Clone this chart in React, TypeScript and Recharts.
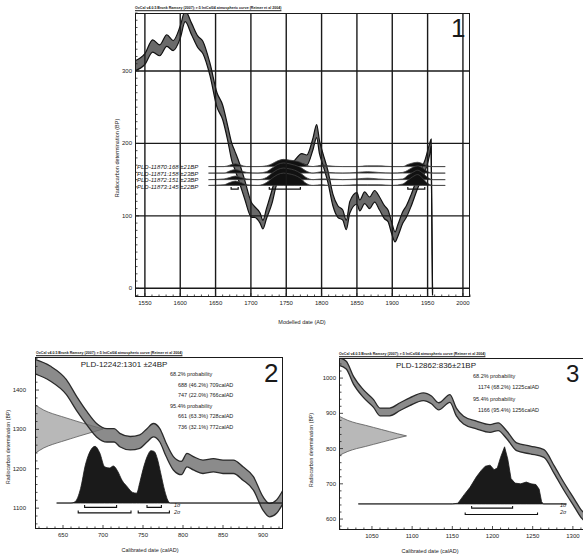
import React from 'react';
import { ComposedChart, Area, Line, XAxis, YAxis, ReferenceLine } from 'recharts';

const FONT = '"Liberation Sans", Arial, Helvetica, sans-serif';
const HEADER = 'OxCal v4.0.5 Bronk Ramsey (2007); r:5 IntCal04 atmospheric curve (Reimer et al 2004)';

// ---- panel 1: modelled dates on the IntCal curve
const curve1Years = [1536, 1550, 1561, 1571, 1581, 1590, 1600, 1607, 1616, 1625, 1632, 1642, 1652, 1660, 1667, 1673, 1677, 1684, 1691, 1701, 1705, 1713, 1717, 1722, 1730, 1736, 1745, 1759, 1772, 1779, 1788, 1793, 1797, 1802, 1809, 1816, 1823, 1830, 1835, 1840, 1850, 1854, 1861, 1868, 1875, 1882, 1889, 1894, 1899, 1904, 1908, 1915, 1920, 1927, 1936, 1946, 1953, 1955, 1957];
const curve1Lo = [300, 309, 326, 321, 334, 328, 345, 368, 350, 332, 324, 294, 250, 233, 205, 176, 165, 145, 124, 98, 98, 90, 82, 96, 118, 142, 156, 160, 172, 170, 192, 208, 186, 170, 146, 114, 98, 94, 81, 104, 116, 107, 117, 110, 119, 108, 96, 92, 76, 64, 72, 90, 98, 114, 138, 160, 185, 196, -10];
const curve1Hi = [314, 324, 343, 336, 350, 342, 362, 383, 366, 348, 341, 311, 270, 253, 225, 200, 190, 172, 150, 118, 113, 104, 94, 110, 136, 158, 170, 174, 186, 184, 208, 226, 204, 186, 162, 130, 114, 108, 94, 120, 132, 122, 133, 126, 135, 126, 114, 108, 92, 78, 88, 106, 114, 130, 154, 176, 200, 206, -6];

const samples1 = ['PLD-11870:168 \u00b121BP', 'PLD-11871:158 \u00b123BP', 'PLD-11872:151 \u00b123BP', 'PLD-11873:145 \u00b122BP'];
const samples1Base = [168, 159, 150, 142];
const dist1Years = [1640, 1662, 1670, 1678, 1686, 1694, 1710, 1722, 1730, 1738, 1746, 1754, 1762, 1770, 1778, 1788, 1800, 1810, 1830, 1850, 1865, 1880, 1900, 1915, 1922, 1929, 1936, 1943, 1950, 1958, 1975];
const dist1S1 = [0, 0, 2, 4, 2, 0, 0, 1, 4, 8, 10, 9, 8, 6, 2, 0, 2, 1, 0, 0, 1, 1, 0, 0, 3, 5, 6, 4, 1, 0, 0];
const dist1S2 = [0, 0, 3, 5, 3, 1, 0, 2, 7, 12, 14, 13, 11, 8, 3, 0, 2, 1, 0, 1, 2, 1, 0, 1, 4, 8, 10, 7, 2, 0, 0];
const dist1S3 = [0, 1, 3, 5, 3, 1, 0, 3, 9, 14, 16, 15, 13, 9, 3, 0, 1, 1, 0, 1, 2, 1, 0, 1, 6, 10, 13, 9, 3, 0, 0];
const dist1S4 = [0, 1, 4, 6, 4, 1, 0, 4, 10, 15, 17, 16, 14, 10, 3, 0, 1, 0, 0, 1, 1, 1, 0, 2, 7, 12, 15, 10, 3, 0, 0];
const bracket1From = [1672, 1726, 1922];
const bracket1To = [1682, 1770, 1946];
const bracket1Level = 137;

const xMajor1 = [1550, 1600, 1650, 1700, 1750, 1800, 1850, 1900, 1950, 2000];
const yMajor1 = [0, 100, 200, 300];

// ---- panel 2: PLD-12242
const curve2Years = [615, 634, 654, 667, 680, 692, 705, 714, 721, 734, 746, 755, 763, 771, 779, 788, 798, 805, 813, 825, 838, 850, 863, 875, 888, 900, 908, 917, 925];
const curve2Lo = [1441, 1423, 1389, 1348, 1311, 1281, 1268, 1268, 1256, 1248, 1252, 1268, 1281, 1268, 1231, 1197, 1185, 1205, 1197, 1188, 1192, 1188, 1188, 1171, 1146, 1095, 1078, 1087, 1112];
const curve2Hi = [1478, 1461, 1427, 1384, 1345, 1315, 1302, 1302, 1290, 1282, 1286, 1302, 1315, 1302, 1265, 1231, 1219, 1239, 1231, 1222, 1226, 1222, 1222, 1205, 1180, 1129, 1112, 1121, 1146];
const gauss2Center = 1301;
const gauss2Years = [615, 626, 637, 648, 659, 670, 680, 690, 700];
const gauss2Half = [62, 48, 39, 32, 25, 18, 12, 6, 0];
const dist2Base = 1113;
const dist2Years = [642, 660, 665, 672, 678, 684, 690, 696, 702, 708, 713, 718, 724, 730, 737, 742, 746, 750, 755, 760, 764, 768, 772, 777, 781, 784, 800, 925];
const dist2Top = [1113, 1113, 1116, 1150, 1210, 1245, 1257, 1240, 1205, 1202, 1207, 1195, 1170, 1155, 1140, 1138, 1165, 1198, 1230, 1246, 1244, 1225, 1190, 1145, 1120, 1113, 1113, 1113];
const sigma1From2 = [677, 755];
const sigma1To2 = [717, 773];
const sigma2From2 = [669, 744];
const sigma2To2 = [735, 783];
const prob2 = ['68.2% probability', '688 (46.2%) 709calAD', '747 (22.0%) 766calAD', '95.4% probability', '661 (63.3%) 728calAD', '736 (32.1%) 772calAD'];

// ---- panel 3: PLD-12862
const curve3Years = [1009, 1018, 1027, 1039, 1052, 1060, 1072, 1085, 1097, 1114, 1124, 1133, 1147, 1155, 1164, 1180, 1197, 1207, 1218, 1230, 1247, 1264, 1277, 1289, 1302, 1310, 1320, 1330];
const curve3Lo = [1036, 1026, 983, 946, 917, 893, 893, 908, 922, 936, 927, 910, 931, 893, 870, 856, 846, 851, 827, 794, 785, 775, 728, 681, 634, 605, 585, 570];
const curve3Hi = [1058, 1048, 1005, 968, 939, 915, 915, 930, 944, 958, 949, 930, 953, 915, 892, 878, 868, 873, 849, 816, 807, 797, 750, 703, 656, 627, 607, 592];
const gauss3Center = 836;
const gauss3Years = [1009, 1020, 1031, 1042, 1052, 1062, 1072, 1082, 1093];
const gauss3Half = [56, 44, 36, 30, 24, 18, 12, 6, 0];
const dist3Base = 643;
const dist3Years = [1033, 1150, 1157, 1165, 1172, 1180, 1186, 1191, 1197, 1202, 1206, 1210, 1215, 1219, 1223, 1228, 1235, 1242, 1248, 1254, 1258, 1261, 1263, 1292];
const dist3Top = [643, 643, 645, 670, 690, 720, 738, 750, 753, 740, 745, 775, 805, 770, 715, 702, 700, 705, 700, 698, 685, 650, 643, 643];
const sigma1From3 = [1174];
const sigma1To3 = [1225];
const sigma2From3 = [1166];
const sigma2To3 = [1256];
const prob3 = ['68.2% probability', '1174 (68.2%) 1225calAD', '95.4% probability', '1166 (95.4%) 1256calAD'];

const steps = (from: number, to: number, step: number) => {
  const out: number[] = [];
  for (let v = from; v <= to; v += step) out.push(v);
  return out;
};

const toBand = (years: number[], lo: number[], hi: number[]) =>
  years.map((x, i) => ({ x, band: [lo[i], hi[i]] }));

const bracket = (from: number, to: number, y: number, lift: number) => [
  { x: from, y: y + lift },
  { x: from, y },
  { x: to, y },
  { x: to, y: y + lift },
];

const curve1 = toBand(curve1Years, curve1Lo, curve1Hi);
const dist1 = dist1Years.map((x, i) => ({
  x,
  s1: [samples1Base[0], samples1Base[0] + dist1S1[i]],
  s2: [samples1Base[1], samples1Base[1] + dist1S2[i]],
  s3: [samples1Base[2], samples1Base[2] + dist1S3[i]],
  s4: [samples1Base[3], samples1Base[3] + dist1S4[i]],
}));
const brackets1 = bracket1From.map((f, i) => bracket(f, bracket1To[i], bracket1Level, 3));

const curve2 = toBand(curve2Years, curve2Lo, curve2Hi);
const gauss2 = gauss2Years.map((x, i) => ({ x, band: [gauss2Center - gauss2Half[i], gauss2Center + gauss2Half[i]] }));
const dist2 = dist2Years.map((x, i) => ({ x, band: [dist2Base, dist2Top[i]] }));
const brackets2 = [
  ...sigma1From2.map((f, i) => bracket(f, sigma1To2[i], 1102, 6)),
  ...sigma2From2.map((f, i) => bracket(f, sigma2To2[i], 1088, 6)),
];

const curve3 = toBand(curve3Years, curve3Lo, curve3Hi);
const gauss3 = gauss3Years.map((x, i) => ({ x, band: [gauss3Center - gauss3Half[i], gauss3Center + gauss3Half[i]] }));
const dist3 = dist3Years.map((x, i) => ({ x, band: [dist3Base, dist3Top[i]] }));
const brackets3 = [
  ...sigma1From3.map((f, i) => bracket(f, sigma1To3[i], 631, 6)),
  ...sigma2From3.map((f, i) => bracket(f, sigma2To3[i], 613, 6)),
];

// ticks drawn by hand: short inward marks, labels only on the major ones
const xTick = (major: number) => (p: any) => {
  const v = p.payload.value;
  const isMajor = v % major === 0;
  return (
    <g>
      <line x1={p.x} x2={p.x} y1={p.y} y2={p.y - (isMajor ? 4 : 2.5)} stroke="#222" strokeWidth={0.8} />
      {isMajor && (
        <text x={p.x} y={p.y + 8} textAnchor="middle" fontSize={6} fill="#222" fontFamily={FONT}>
          {v}
        </text>
      )}
    </g>
  );
};

const yTick = (major: number, gap: number) => (p: any) => {
  const v = p.payload.value;
  const isMajor = v % major === 0;
  return (
    <g>
      <line x1={p.x} x2={p.x + (isMajor ? 4 : 2.5)} y1={p.y} y2={p.y} stroke="#222" strokeWidth={0.8} />
      {isMajor && (
        <text x={p.x - gap} y={p.y + 2} textAnchor="end" fontSize={6} fill="#222" fontFamily={FONT}>
          {v}
        </text>
      )}
    </g>
  );
};

const Txt = ({ x, y, size, children, anchor = 'start', italic, bold, rotate, underline, color = '#1a1a1a' }: any) => {
  const tx = anchor === 'middle' ? '-50%' : anchor === 'end' ? '-100%' : '0';
  return (
    <div
      style={{
        position: 'absolute',
        left: x,
        top: y,
        fontSize: size,
        lineHeight: 1,
        whiteSpace: 'nowrap',
        fontStyle: italic ? 'italic' : 'normal',
        fontWeight: bold ? 700 : 400,
        textDecoration: underline ? 'underline' : 'none',
        color,
        transform: rotate ? 'translate(-50%,-50%) rotate(-90deg)' : `translate(${tx},-50%)`,
      }}
    >
      {children}
    </div>
  );
};

const Box = ({ l, t, r, b }: any) => (
  <div
    style={{
      position: 'absolute',
      left: l,
      top: t,
      width: r - l,
      height: b - t,
      border: '1.5px solid #1a1a1a',
      boxSizing: 'border-box',
    }}
  />
);

const axisProps = {
  type: 'number' as const,
  allowDataOverflow: true,
  interval: 0 as const,
  tickSize: 0,
  tickMargin: 0,
  axisLine: false,
  tickLine: false,
};

const Panel1 = () => (
  <>
    <div style={{ position: 'absolute', left: 0, top: 0 }}>
      <ComposedChart width={490} height={330} margin={{ top: 13, right: 20, bottom: 19, left: 115 }}>
        <XAxis {...axisProps} dataKey="x" domain={[1536, 2010]} ticks={steps(1540, 2010, 10)} tick={xTick(50)} height={14} />
        <YAxis {...axisProps} domain={[-12, 380]} ticks={steps(-10, 380, 10)} tick={yTick(100, 3)} width={20} />
        {xMajor1.map((v) => (
          <ReferenceLine key={'gx' + v} x={v} stroke="#1a1a1a" strokeWidth={1.4} />
        ))}
        {yMajor1.map((v) => (
          <ReferenceLine key={'gy' + v} y={v} stroke="#1a1a1a" strokeWidth={1.4} />
        ))}
        <Area data={curve1} dataKey="band" type="monotone" fill="#6a6a6a" fillOpacity={1} stroke="#111" strokeWidth={1.2} dot={false} activeDot={false} isAnimationActive={false} />
        {['s1', 's2', 's3', 's4'].map((k) => (
          <Area key={k} data={dist1} dataKey={k} type="monotone" fill="#111" fillOpacity={1} stroke="#444" strokeWidth={0.8} dot={false} activeDot={false} isAnimationActive={false} />
        ))}
        {brackets1.map((b, i) => (
          <Line key={'b' + i} data={b} dataKey="y" type="linear" stroke="#111" strokeWidth={1.2} dot={false} activeDot={false} isAnimationActive={false} />
        ))}
      </ComposedChart>
    </div>
    <Box l={135} t={13} r={470} b={297} />
    <Txt x={135} y={9} size={3.6} bold underline>{HEADER}</Txt>
    <Txt x={451} y={28} size={26}>1</Txt>
    {samples1.map((s, i) => (
      <Txt key={s} x={137} y={167 + i * 6.6} size={6} italic>{s}</Txt>
    ))}
    <Txt x={118} y={158} size={5.5} rotate>Radiocarbon determination (BP)</Txt>
    <Txt x={302} y={323} size={5.5} anchor="middle">Modelled date (AD)</Txt>
  </>
);

const Panel2 = () => (
  <>
    <div style={{ position: 'absolute', left: 0, top: 345 }}>
      <ComposedChart width={300} height={213} margin={{ top: 12, right: 17, bottom: 17, left: 20 }}>
        <XAxis {...axisProps} dataKey="x" domain={[615, 925]} ticks={steps(620, 920, 10)} tick={xTick(50)} height={12} />
        <YAxis {...axisProps} domain={[1047, 1484]} ticks={steps(1060, 1480, 20)} tick={yTick(100, 9)} width={15} />
        <Area data={gauss2} dataKey="band" type="monotone" fill="#b8b8b8" fillOpacity={1} stroke="#555" strokeWidth={0.8} dot={false} activeDot={false} isAnimationActive={false} />
        <Area data={curve2} dataKey="band" type="monotone" fill="#6e6e6e" fillOpacity={0.8} stroke="#2a2a2a" strokeWidth={1.3} dot={false} activeDot={false} isAnimationActive={false} />
        <Area data={dist2} dataKey="band" type="monotone" fill="#1a1a1a" fillOpacity={1} stroke="#1a1a1a" strokeWidth={0.8} dot={false} activeDot={false} isAnimationActive={false} />
        {brackets2.map((b, i) => (
          <Line key={'b' + i} data={b} dataKey="y" type="linear" stroke="#111" strokeWidth={1.1} dot={false} activeDot={false} isAnimationActive={false} />
        ))}
      </ComposedChart>
    </div>
    <Box l={35} t={357} r={283} b={529} />
    <Txt x={36} y={354} size={3.6} bold underline>{HEADER}</Txt>
    <Txt x={124} y={365} size={8} anchor="middle">PLD-12242:1301 {'\u00b1'}24BP</Txt>
    <Txt x={264} y={373} size={26}>2</Txt>
    {prob2.map((s, i) => (
      <Txt key={s} x={s.includes('probability') ? 170 : 178} y={375 + i * 10.5} size={5.5}>{s}</Txt>
    ))}
    <Txt x={174} y={506} size={5.5} italic>1{'\u03c3'}</Txt>
    <Txt x={174} y={513} size={5.5} italic>2{'\u03c3'}</Txt>
    <Txt x={9} y={447} size={5.2} rotate>Radiocarbon determination (BP)</Txt>
    <Txt x={150} y={551} size={5.5} anchor="middle">Calibrated date (calAD)</Txt>
  </>
);

const Panel3 = () => (
  <>
    <div style={{ position: 'absolute', left: 290, top: 345 }}>
      <ComposedChart width={317} height={213} margin={{ top: 13, right: 10, bottom: 16, left: 34 }}>
        <XAxis {...axisProps} dataKey="x" domain={[1009, 1330]} ticks={steps(1010, 1330, 10)} tick={xTick(50)} height={12} />
        <YAxis {...axisProps} domain={[569, 1057]} ticks={steps(580, 1040, 20)} tick={yTick(100, 3)} width={15} />
        <Area data={gauss3} dataKey="band" type="monotone" fill="#b8b8b8" fillOpacity={1} stroke="#555" strokeWidth={0.8} dot={false} activeDot={false} isAnimationActive={false} />
        <Area data={curve3} dataKey="band" type="monotone" fill="#6e6e6e" fillOpacity={0.8} stroke="#2a2a2a" strokeWidth={1.3} dot={false} activeDot={false} isAnimationActive={false} />
        <Area data={dist3} dataKey="band" type="linear" fill="#1a1a1a" fillOpacity={1} stroke="#1a1a1a" strokeWidth={0.8} dot={false} activeDot={false} isAnimationActive={false} />
        {brackets3.map((b, i) => (
          <Line key={'b' + i} data={b} dataKey="y" type="linear" stroke="#111" strokeWidth={1.1} dot={false} activeDot={false} isAnimationActive={false} />
        ))}
      </ComposedChart>
    </div>
    <Box l={339} t={358} r={597} b={530} />
    <Txt x={339} y={355} size={3.6} bold underline>{HEADER}</Txt>
    <Txt x={436} y={366} size={8} anchor="middle">PLD-12862:836{'\u00b1'}21BP</Txt>
    <Txt x={566} y={374} size={24}>3</Txt>
    {prob3.map((s, i) => (
      <Txt key={s} x={s.includes('probability') ? 473 : 478} y={377 + i * 11.3} size={5.5}>{s}</Txt>
    ))}
    <Txt x={560} y={506} size={5.5} italic>1{'\u03c3'}</Txt>
    <Txt x={560} y={513} size={5.5} italic>2{'\u03c3'}</Txt>
    <Txt x={312} y={450} size={5.2} rotate>Radiocarbon determination (BP)</Txt>
    <Txt x={430} y={552} size={5.5} anchor="middle">Calibrated date (calAD)</Txt>
  </>
);

export default function App() {
  return (
    <div
      style={{
        position: 'absolute',
        left: 0,
        top: 0,
        width: 583,
        height: 558,
        overflow: 'hidden',
        background: '#fff',
        fontFamily: FONT,
      }}
    >
      <Panel1 />
      <Panel2 />
      <Panel3 />
    </div>
  );
}
